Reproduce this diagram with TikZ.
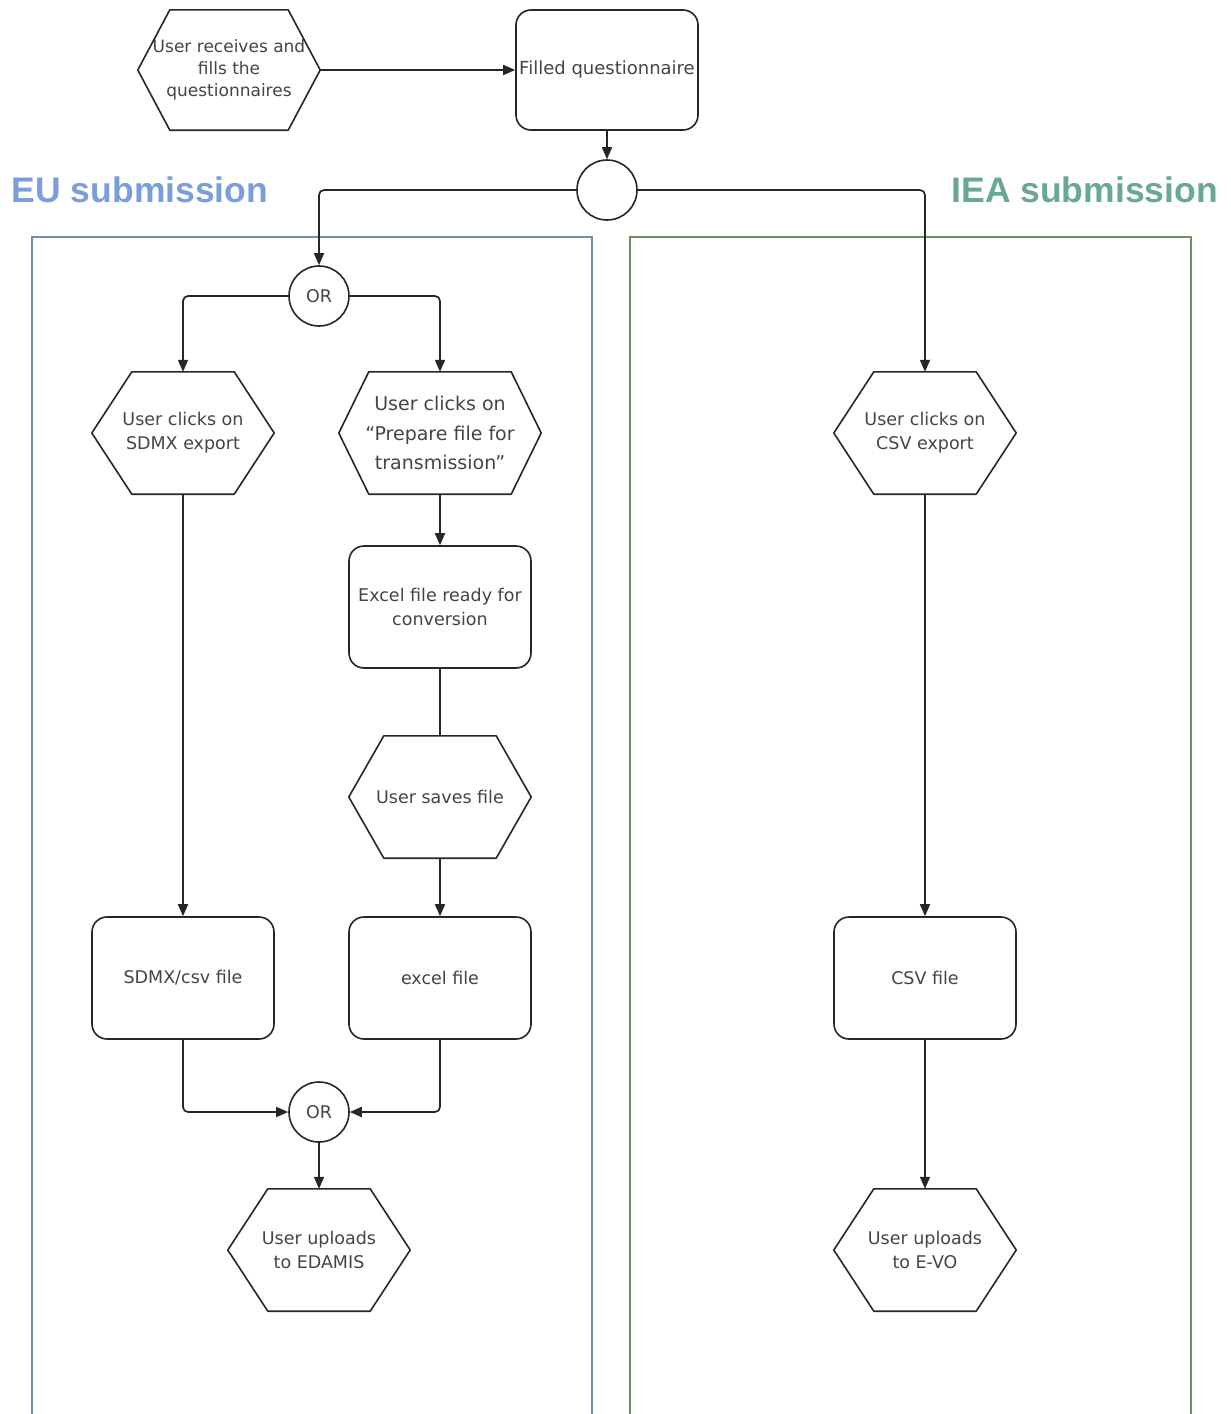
\documentclass[tikz,border=0pt]{standalone}
\usepackage{fontspec}
\setmainfont{DejaVu Sans}
\newfontfamily\titlefont{Liberation Sans}
\usetikzlibrary{arrows.meta}
\definecolor{txtgray}{RGB}{68,68,68}
\definecolor{eublue}{RGB}{122,158,218}
\definecolor{ieagreen}{RGB}{103,168,150}
\definecolor{eubox}{RGB}{108,142,176}
\definecolor{ieabox}{RGB}{112,145,92}
\tikzset{
  base/.style={text=txtgray, align=center, inner sep=0pt, font=\fontsize{17.5}{24}\selectfont},
  proc/.style={base, draw=black!85, line width=1.6pt, rounded corners=15pt, minimum width=182pt, minimum height=122pt},
  hexbox/.style={base, minimum height=122pt},
  hexline/.style={draw=black!85, line width=1.6pt, line join=round},
  orc/.style={base, circle, draw=black!85, line width=1.6pt, minimum size=60pt},
  conn/.style={draw=black!85, line width=1.7pt, rounded corners=5pt},
  arr/.style={conn, -{Triangle[length=12pt,width=10pt]}},
  lane/.style={line width=1.3pt},
  title/.style={font=\titlefont\bfseries\fontsize{35.5}{40}\selectfont, inner sep=0pt}
}
% name, x, y, width, indent, extra style, text
\newcommand\myhex[7]{%
  \node[hexbox, minimum width=#4pt, #6] (#1) at (#2,-#3) {#7};
  \draw[hexline] (#1.west) -- ([xshift=#5pt]#1.north west) -- ([xshift=-#5pt]#1.north east)
    -- (#1.east) -- ([xshift=-#5pt]#1.south east) -- ([xshift=#5pt]#1.south west) -- cycle;
}
\begin{document}
\begin{tikzpicture}[x=1pt,y=1pt]
\useasboundingbox (0,0) rectangle (1231,-1414);
% lanes
\draw[lane, eubox] (32,-1420) -- (32,-237) -- (592,-237) -- (592,-1420);
\draw[lane, ieabox] (630,-1420) -- (630,-237) -- (1191,-237) -- (1191,-1420);
\node[title, text=eublue] (eut) at (140,-190) {EU submission};
\node[title, text=ieagreen, anchor=east] (ieat) at (1218,-190) {IEA submission};
% top
\myhex{fill}{229}{70}{182}{32}{minimum height=120pt, font=\fontsize{17}{22}\selectfont}{User receives and\\fills the\\questionnaires}
\node[proc, minimum height=120pt, font=\fontsize{18}{24}\selectfont] (filled) at (607,-70) {Filled questionnaire};
\node[orc] (c1) at (607,-190) {};
% EU
\node[orc] (or1) at (319,-296) {OR};
\myhex{sdmxhex}{183}{433}{182}{40}{}{User clicks on\\SDMX export}
\myhex{prephex}{440}{433}{202}{30}{font=\fontsize{19}{29.5}\selectfont}{User clicks on\\“Prepare file for\\transmission”}
\node[proc] (ready) at (440,-607) {Excel file ready for\\conversion};
\myhex{saves}{440}{797}{182}{35}{}{User saves file}
\node[proc] (sdmxfile) at (183,-978) {SDMX/csv file};
\node[proc] (excelfile) at (440,-978) {excel file};
\node[orc] (or2) at (319,-1112) {OR};
\myhex{edamis}{319}{1250}{182}{40}{}{User uploads\\to EDAMIS}
% IEA
\myhex{csvhex}{925}{433}{182}{40}{}{User clicks on\\CSV export}
\node[proc] (csvfile) at (925,-978) {CSV file};
\myhex{evo}{925}{1250}{182}{40}{}{User uploads\\to E-VO}
% connectors
\draw[arr] (fill) -- (filled);
\draw[arr] (filled) -- (c1);
\draw[arr] (c1.west) -| (or1);
\draw[arr] (c1.east) -| (csvhex);
\draw[arr] (or1.west) -| (sdmxhex);
\draw[arr] (or1.east) -| (prephex);
\draw[arr] (sdmxhex) -- (sdmxfile);
\draw[arr] (prephex) -- (ready);
\draw[conn] (ready) -- (saves);
\draw[arr] (saves) -- (excelfile);
\draw[arr] (sdmxfile.south) |- (or2);
\draw[arr] (excelfile.south) |- (or2);
\draw[arr] (or2) -- (edamis);
\draw[arr] (csvhex) -- (csvfile);
\draw[arr] (csvfile) -- (evo);
\end{tikzpicture}
\end{document}
